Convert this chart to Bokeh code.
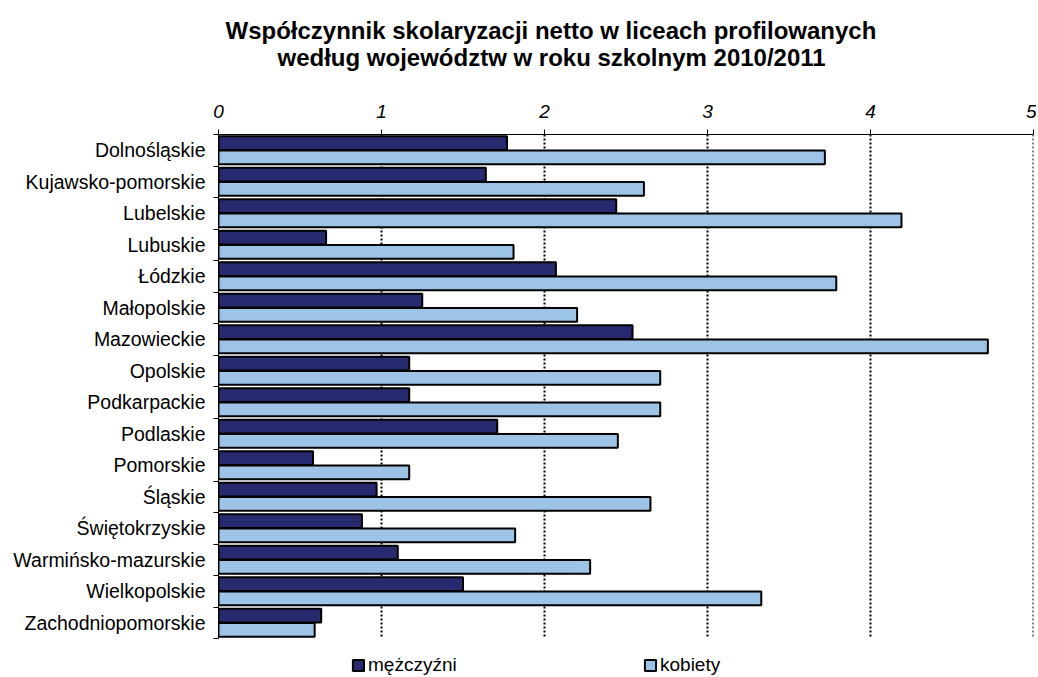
from bokeh.plotting import figure
from bokeh.models import (Range1d, FixedTicker, Title, Legend, LegendItem, ColumnDataSource)
from bokeh.embed import file_html
from bokeh.resources import INLINE

categories = ["Dolnośląskie", "Kujawsko-pomorskie", "Lubelskie", "Lubuskie", "Łódzkie",
              "Małopolskie", "Mazowieckie", "Opolskie", "Podkarpackie", "Podlaskie",
              "Pomorskie", "Śląskie", "Świętokrzyskie", "Warmińsko-mazurskie",
              "Wielkopolskie", "Zachodniopomorskie"]
men = [1.77, 1.64, 2.44, 0.66, 2.07, 1.25, 2.54, 1.17, 1.17, 1.71,
       0.58, 0.97, 0.88, 1.10, 1.50, 0.63]
women = [3.72, 2.61, 4.19, 1.81, 3.79, 2.20, 4.72, 2.71, 2.71, 2.45,
         1.17, 2.65, 1.82, 2.28, 3.33, 0.59]
x_ticks = [0, 1, 2, 3, 4, 5]
series_names = ["mężczyźni", "kobiety"]
title_lines = ["Współczynnik skolaryzacji netto w liceach profilowanych",
               "według województw w roku szkolnym 2010/2011"]

FONT = "'Liberation Sans Narrow', 'Arial Narrow', 'Liberation Sans', sans-serif"
DARK = "#272a6e"
LIGHT = "#9dc3e6"

n = len(categories)
idx = list(range(n))
centers = [i + 0.5 for i in idx]
bar_h = 0.44

# frame: categories occupy 504px, extra room at the bottom for the legend
BAND_PX = 504 / n
FRAME_H = 542
y_end = FRAME_H / BAND_PX

src = ColumnDataSource(dict(
    y_men=[c - bar_h / 2 - 0.005 for c in centers],
    y_women=[c + bar_h / 2 + 0.005 for c in centers],
    men=men, women=women))

p = figure(frame_width=815, frame_height=FRAME_H, output_backend="svg", toolbar_location=None,
           x_range=Range1d(0, 5), y_range=Range1d(y_end, 0),
           x_axis_location="above",
           min_border_left=218, min_border_right=3, min_border_top=134, min_border_bottom=0)
p.outline_line_color = None
p.background_fill_color = "white"

# dotted vertical grid lines limited to the category area
grid_x = x_ticks[1:]
p.segment(x0=grid_x, y0=[0] * len(grid_x), x1=grid_x, y1=[n] * len(grid_x),
          line_color="black", line_dash="2 2", line_width=2)

r_men = p.hbar(y="y_men", right="men", left=0, height=bar_h, source=src,
               fill_color=DARK, line_color="black", line_width=2)
r_women = p.hbar(y="y_women", right="women", left=0, height=bar_h, source=src,
                 fill_color=LIGHT, line_color="black", line_width=2)

# x axis (top)
xa = p.xaxis[0]
xa.ticker = FixedTicker(ticks=x_ticks, minor_ticks=[])
xa.axis_line_color = "black"
xa.axis_line_width = 1
xa.major_tick_out = 5
xa.major_tick_in = 0
xa.major_tick_line_color = "black"
xa.minor_tick_line_color = None
xa.major_label_text_font = FONT
xa.major_label_text_font_style = "italic"
xa.major_label_text_font_size = "19px"
xa.major_label_text_color = "black"
xa.major_label_standoff = 12

# y axis (left)
ya = p.yaxis[0]
ya.bounds = (0, n)
ya.ticker = FixedTicker(ticks=centers, minor_ticks=list(range(n + 1)))
ya.major_label_overrides = {c: name for c, name in zip(centers, categories)}
ya.axis_line_color = "black"
ya.axis_line_width = 1
ya.major_tick_line_color = None
ya.major_tick_out = 0
ya.minor_tick_line_color = "black"
ya.minor_tick_out = 5
ya.minor_tick_in = 0
ya.major_label_text_font = FONT
ya.major_label_text_font_size = "19.5px"
ya.major_label_text_color = "black"
ya.major_label_standoff = 8

p.xgrid.grid_line_color = None
p.ygrid.grid_line_color = None

# titles
p.add_layout(Title(text=title_lines[1], align="left", offset=59, text_font=FONT,
                   text_font_size="24px", text_font_style="bold", text_color="black",
                   standoff=62), "above")
p.add_layout(Title(text=title_lines[0], align="left", offset=7, text_font=FONT,
                   text_font_size="24px", text_font_style="bold", text_color="black",
                   standoff=-67), "above")

legend = Legend(items=[LegendItem(label=series_names[0], renderers=[r_men]),
                       LegendItem(label=series_names[1], renderers=[r_women])],
                orientation="horizontal", location=(133, 0),
                glyph_width=14, glyph_height=14, spacing=175, padding=0, margin=0,
                label_width=100, label_height=20,
                label_text_font=FONT, label_text_font_size="19px", label_text_color="black",
                label_standoff=3, border_line_color=None, background_fill_alpha=0)
p.add_layout(legend, "center")

open("out.html", "w").write(file_html(p, INLINE))
